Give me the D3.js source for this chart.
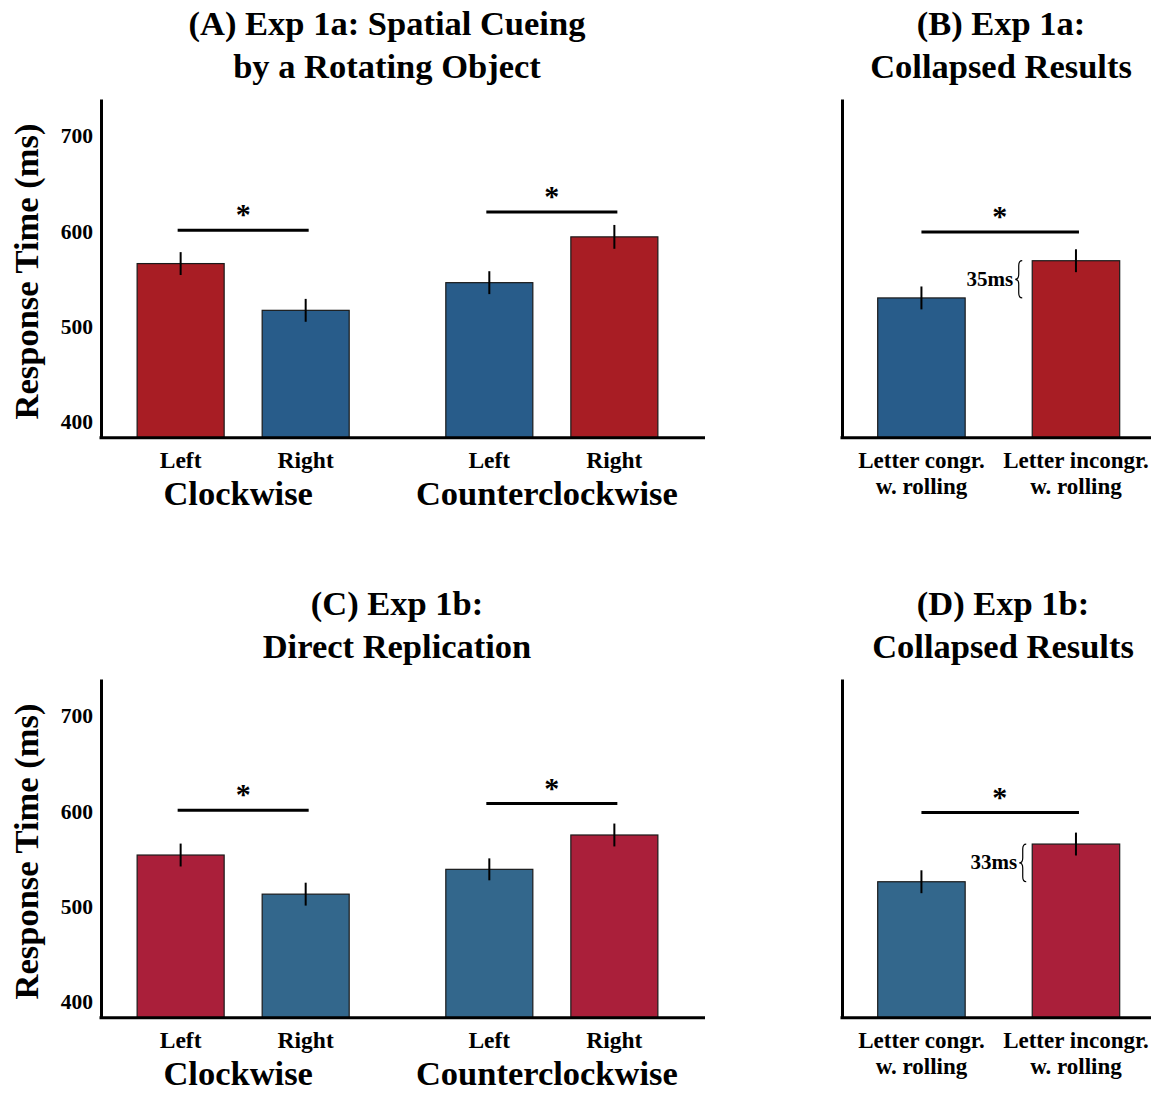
<!DOCTYPE html>
<html><head><meta charset="utf-8">
<script src="https://cdn.jsdelivr.net/npm/d3@7"></script>
<style>
body{margin:0;background:#fff}
svg{display:block}
text{font-family:"Liberation Serif","Times New Roman",serif;font-weight:bold;fill:#000}
</style>
</head><body>
<svg id="chart" width="1151" height="1093"></svg>
<script>
// ---------- data ----------
const directions = ["Clockwise", "Counterclockwise"];
const cueSides = ["Left", "Right"];
// congruency of each (direction, side) cell, in order CW-L, CW-R, CCW-L, CCW-R
const cellTypes = ["incongruent", "congruent", "congruent", "incongruent"];
const collapsedLine1 = ["Letter congr.", "Letter incongr."];
const collapsedLine2 = ["w. rolling", "w. rolling"];
const collapsedTypes = ["congruent", "incongruent"];
const yTicks = [400, 500, 600, 700];

const exp1aMeans = [566, 517, 546, 594];
const exp1aSE = [12, 12, 12, 12.5];
const exp1aSig = [601, 620];
const exp1aCollapsedMeans = [530, 569];
const exp1aCollapsedSE = [12, 12];
const exp1aCollapsedSig = 599;
const exp1aDiff = "35ms";

const exp1bMeans = [554, 513, 539, 575];
const exp1bSE = [12, 12, 11.5, 12];
const exp1bSig = [601, 608];
const exp1bCollapsedMeans = [526, 565.5];
const exp1bCollapsedSE = [12, 12];
const exp1bCollapsedSig = 598.5;
const exp1bDiff = "33ms";

const titlesA = ["(A) Exp 1a: Spatial Cueing", "by a Rotating Object"];
const titlesB = ["(B) Exp 1a:", "Collapsed Results"];
const titlesC = ["(C) Exp 1b:", "Direct Replication"];
const titlesD = ["(D) Exp 1b:", "Collapsed Results"];
const yLabel = "Response Time (ms)";
const sigMark = "*";

// ---------- styles ----------
const palettes = [
  {incongruent: "#A81D24", congruent: "#285C8A"},
  {incongruent: "#AA1F3A", congruent: "#33678C"}
];

const svg = d3.select("#chart");
const yDomain = [383.5, 738.5];

function makeY(off) {
  return d3.scaleLinear().domain(yDomain).range([437.7 + off, 99 + off]);
}

function drawDetail(off, means, se, sig, titles, titleX, pal) {
  const g = svg.append("g");
  const y = makeY(off);
  const x0 = d3.scaleBand().domain(directions).range([97, 698]).paddingInner(0.313).paddingOuter(0.13);
  const x1 = d3.scaleBand().domain(cueSides).range([0, x0.bandwidth()]).paddingInner(0.304);
  const cells = directions.flatMap((d, i) => cueSides.map((s, j) => ({
    dir: d, side: s, mean: means[i * 2 + j], se: se[i * 2 + j], type: cellTypes[i * 2 + j]
  })));
  const cx = d => x0(d.dir) + x1(d.side) + x1.bandwidth() / 2;

  g.selectAll("rect.bar").data(cells).join("rect")
    .attr("class", "bar")
    .attr("x", d => x0(d.dir) + x1(d.side))
    .attr("y", d => y(d.mean))
    .attr("width", x1.bandwidth())
    .attr("height", d => y.range()[0] - y(d.mean))
    .attr("fill", d => pal[d.type])
    .attr("stroke", "#1a1a1a").attr("stroke-width", 1.2);

  g.selectAll("line.err").data(cells).join("line")
    .attr("class", "err")
    .attr("x1", cx).attr("x2", cx)
    .attr("y1", d => y(d.mean + d.se)).attr("y2", d => y(d.mean - d.se))
    .attr("stroke", "#000").attr("stroke-width", 2);

  // y axis
  const ax = g.append("g").attr("transform", "translate(101,0)")
    .call(d3.axisLeft(y).tickValues(yTicks).tickSize(0).tickPadding(8).tickFormat(d3.format("d")));
  ax.select(".domain").attr("stroke", "#000").attr("stroke-width", 3);
  ax.selectAll("text").attr("font-size", 21.5).attr("font-family", null);
  // x axis
  g.append("line").attr("x1", 99.5).attr("x2", 705)
    .attr("y1", y.range()[0]).attr("y2", y.range()[0])
    .attr("stroke", "#000").attr("stroke-width", 3);

  // category labels
  g.selectAll("text.cat").data(cells).join("text")
    .attr("class", "cat")
    .attr("x", cx).attr("y", 468 + off)
    .attr("text-anchor", "middle").attr("font-size", 23.5)
    .text(d => d.side);
  g.selectAll("text.grp").data(directions).join("text")
    .attr("class", "grp")
    .attr("x", d => x0(d) + x0.bandwidth() / 2 - 5).attr("y", 505 + off)
    .attr("text-anchor", "middle").attr("font-size", 34.5)
    .text(d => d);

  // significance
  directions.forEach((d, i) => {
    const xa = x0(d) + x1(cueSides[0]) + x1.bandwidth() / 2;
    const xb = x0(d) + x1(cueSides[1]) + x1.bandwidth() / 2;
    g.append("line").attr("x1", xa - 3).attr("x2", xb + 3)
      .attr("y1", y(sig[i])).attr("y2", y(sig[i]))
      .attr("stroke", "#000").attr("stroke-width", 3);
    g.append("text").attr("x", (xa + xb) / 2).attr("y", y(sig[i]) - 6)
      .attr("text-anchor", "middle").attr("font-size", 30).text(sigMark);
  });

  // y label
  g.append("text").attr("transform", `translate(37.5,${271.5 + off}) rotate(-90)`)
    .attr("text-anchor", "middle").attr("font-size", 34.5).text(yLabel);

  // titles
  titles.forEach((t, i) => {
    g.append("text").attr("x", titleX).attr("y", 35 + i * 43 + off)
      .attr("text-anchor", "middle").attr("font-size", 34.5).text(t);
  });
}

function drawCollapsed(off, means, se, sig, diff, titles, titleX, pal, braceShift) {
  const g = svg.append("g");
  const y = makeY(off);
  const xc = d3.scaleBand().domain(collapsedLine1).range([841.7, 1155.7]).paddingInner(0.434).paddingOuter(0.233);
  const cells = collapsedLine1.map((c, i) => ({c, l2: collapsedLine2[i], mean: means[i], se: se[i], type: collapsedTypes[i]}));
  const cx = d => xc(d.c) + xc.bandwidth() / 2;

  g.selectAll("rect.bar").data(cells).join("rect")
    .attr("x", d => xc(d.c)).attr("y", d => y(d.mean))
    .attr("width", xc.bandwidth()).attr("height", d => y.range()[0] - y(d.mean))
    .attr("fill", d => pal[d.type])
    .attr("stroke", "#1a1a1a").attr("stroke-width", 1.2);
  g.selectAll("line.err").data(cells).join("line")
    .attr("class", "err")
    .attr("x1", cx).attr("x2", cx)
    .attr("y1", d => y(d.mean + d.se)).attr("y2", d => y(d.mean - d.se))
    .attr("stroke", "#000").attr("stroke-width", 2);

  const ax = g.append("g").attr("transform", "translate(842,0)")
    .call(d3.axisLeft(y).tickValues([]).tickSize(0));
  ax.select(".domain").attr("stroke", "#000").attr("stroke-width", 3);
  g.append("line").attr("x1", 840.5).attr("x2", 1151)
    .attr("y1", y.range()[0]).attr("y2", y.range()[0])
    .attr("stroke", "#000").attr("stroke-width", 3);

  g.selectAll("text.l1").data(cells).join("text")
    .attr("class", "l1").attr("x", cx).attr("y", 468 + off)
    .attr("text-anchor", "middle").attr("font-size", 23).text(d => d.c);
  g.selectAll("text.l2").data(cells).join("text")
    .attr("class", "l2").attr("x", cx).attr("y", 494 + off)
    .attr("text-anchor", "middle").attr("font-size", 23).text(d => d.l2);

  // significance
  const xa = cx(cells[0]), xb = cx(cells[1]);
  g.append("line").attr("x1", xa).attr("x2", xb + 3)
    .attr("y1", y(sig)).attr("y2", y(sig))
    .attr("stroke", "#000").attr("stroke-width", 3);
  g.append("text").attr("x", (xa + xb) / 2 + 1).attr("y", y(sig) - 6)
    .attr("text-anchor", "middle").attr("font-size", 30).text(sigMark);

  // brace
  const yt = y(means[1]), yb = y(means[0]), ym = (yt + yb) / 2;
  const tip = xc(cells[1].c) - 17 + braceShift;
  const xm = tip + 3.5, xr = tip + 7, r = 5;
  g.append("path")
    .attr("d", `M${xr},${yt} Q${xm},${yt} ${xm},${yt + r} L${xm},${ym - r} Q${xm},${ym} ${tip},${ym} Q${xm},${ym} ${xm},${ym + r} L${xm},${yb - r} Q${xm},${yb} ${xr},${yb}`)
    .attr("fill", "none").attr("stroke", "#000").attr("stroke-width", 1.2);
  g.append("text").attr("x", tip - 2).attr("y", ym + 6.5)
    .attr("text-anchor", "end").attr("font-size", 21).text(diff);

  titles.forEach((t, i) => {
    g.append("text").attr("x", titleX).attr("y", 35 + i * 43 + off)
      .attr("text-anchor", "middle").attr("font-size", 34.5).text(t);
  });
}

drawDetail(0, exp1aMeans, exp1aSE, exp1aSig, titlesA, 387, palettes[0]);
drawCollapsed(0, exp1aCollapsedMeans, exp1aCollapsedSE, exp1aCollapsedSig, exp1aDiff, titlesB, 1001, palettes[0], 0);
drawDetail(580, exp1bMeans, exp1bSE, exp1bSig, titlesC, 397, palettes[1]);
drawCollapsed(580, exp1bCollapsedMeans, exp1bCollapsedSE, exp1bCollapsedSig, exp1bDiff, titlesD, 1003, palettes[1], 4);
</script>
</body></html>
